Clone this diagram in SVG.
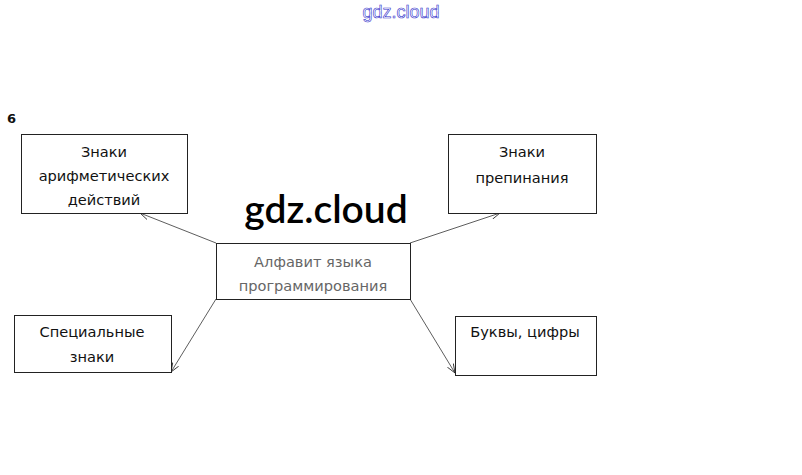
<svg xmlns="http://www.w3.org/2000/svg" width="802" height="475" viewBox="0 0 802 475">
<defs>
<marker id="arr" markerWidth="10" markerHeight="8" refX="9" refY="4" orient="auto" markerUnits="userSpaceOnUse">
<path d="M0,0.5 L9,4 L0,7.5" fill="none" stroke="#222" stroke-width="0.8"/>
</marker>
<style>
.box{fill:#fff;stroke:#222;stroke-width:1}
.t{font-family:"DejaVu Sans",sans-serif;font-size:14.6px;fill:#111;text-anchor:middle}
.tc{font-family:"DejaVu Sans",sans-serif;font-size:14.6px;fill:#666;text-anchor:middle}
.ln{stroke:#333;stroke-width:0.8;fill:none}
</style>
</defs>
<rect width="802" height="475" fill="#fff"/>
<text x="401" y="18" font-family="'Liberation Sans',sans-serif" font-size="18" fill="#fff" stroke="#3333cc" stroke-width="0.6" text-anchor="middle">gdz.cloud</text>
<text x="7" y="123" font-family="'DejaVu Sans',sans-serif" font-size="13" font-weight="bold" fill="#111">6</text>
<g id="connectors">
<line class="ln" x1="216" y1="243" x2="140" y2="213" marker-end="url(#arr)"/>
<line class="ln" x1="410" y1="243" x2="500" y2="213" marker-end="url(#arr)"/>
<line class="ln" x1="216" y1="299" x2="171" y2="372" marker-end="url(#arr)"/>
<line class="ln" x1="410" y1="299" x2="455" y2="373" marker-end="url(#arr)"/>
</g>
<g id="n1">
<rect class="box" x="21.5" y="134.5" width="166" height="79"/>
<text class="t" x="104" y="157">Знаки</text>
<text class="t" x="104" y="181">арифметических</text>
<text class="t" x="104" y="205">действий</text>
</g>
<g id="n2">
<rect class="box" x="448.5" y="134.5" width="148" height="79"/>
<text class="t" x="522" y="157">Знаки</text>
<text class="t" x="522" y="183">препинания</text>
</g>
<g id="center">
<rect class="box" x="216.5" y="243.5" width="194" height="56" stroke="#666"/>
<text class="tc" x="313" y="267">Алфавит языка</text>
<text class="tc" x="313" y="291">программирования</text>
</g>
<g id="n3">
<rect class="box" x="14.5" y="315.5" width="157" height="57"/>
<text class="t" x="92" y="337">Специальные</text>
<text class="t" x="92" y="362">знаки</text>
</g>
<g id="n4">
<rect class="box" x="455.5" y="316.5" width="141" height="59"/>
<text class="t" x="525" y="337">Буквы, цифры</text>
</g>
<text x="326" y="223" font-family="Lato,'Liberation Sans',sans-serif" font-size="39" font-weight="600" fill="#000" text-anchor="middle">gdz.cloud</text>
</svg>
